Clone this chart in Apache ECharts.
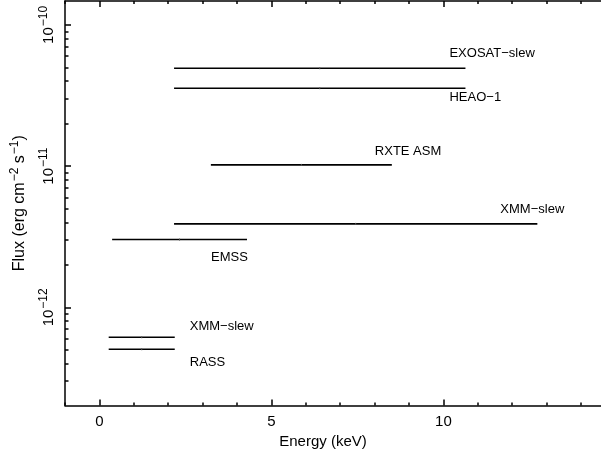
<!DOCTYPE html>
<html><head><meta charset="utf-8">
<script src="https://cdn.jsdelivr.net/npm/echarts@6/dist/echarts.min.js"></script>
<style>html,body{margin:0;padding:0;background:#fff}#c{width:601px;height:454px}</style>
</head><body><div id="c"></div>
<script>
// ---- data ----
const names = ['EXOSAT\u2212slew', 'HEAO\u22121', 'RXTE ASM', 'XMM\u2212slew', 'EMSS', 'XMM\u2212slew', 'RASS'];
const eLow  = [2.17, 2.17, 3.24, 2.17, 0.37, 0.27, 0.27];
const eHigh = [10.64, 10.64, 8.5, 12.73, 4.29, 2.19, 2.19];
const flux  = [4.93e-11, 3.56e-11, 1.02e-11, 3.9e-12, 3.02e-12, 6.14e-13, 5.05e-13];
const xMajorTicks = [0, 5, 10];
const xMinorTicks = [-1, 1, 2, 3, 4, 6, 7, 8, 9, 11, 12, 13, 14];
const yMajorTicks = [1e-12, 1e-11, 1e-10];
const yMinorMantissa = [2, 3, 4, 5, 6, 7, 8, 9];
const yDecades = [-13, -12, -11, -10];
// ---- styles ----
const labelOffsets = [[-16, -15], [-16, 9], [-17, -13], [-37, -14.5], [-36, 18], [15, -11], [15, 12.7]];
const xMin = -1, xMax = 14.58, yMin = 2.018e-13, yMax = 1.476e-10;
const FONT = 'Liberation Sans, Arial, sans-serif';

const yMinorVals = [];
yDecades.forEach(d => yMinorMantissa.forEach(m => {
  const lv = Math.log10(m) + d;
  if (lv > Math.log10(yMin) && lv < Math.log10(yMax)) yMinorVals.push(lv);
}));

const data = names.map((n, i) => [eLow[i], eHigh[i], flux[i], i]);

const chart = echarts.init(document.getElementById('c'), null, {renderer: 'canvas'});
const lineStyle = {color: '#000', width: 1.5};
const sup = {fontSize: 12, fontFamily: FONT, color: '#000', padding: [0, 0, 10, 1]};
const base = {fontSize: 15, fontFamily: FONT, color: '#000'};

chart.setOption({
  animation: false,
  backgroundColor: '#fff',
  grid: {left: 65, right: 0, top: 1, bottom: 48.5, containLabel: false, outerBoundsMode: 'none'},
  xAxis: [
    {type: 'value', min: xMin, max: xMax, position: 'bottom',
     name: 'Energy (keV)', nameLocation: 'middle', nameGap: 28,
     nameTextStyle: {fontSize: 15, fontFamily: FONT, color: '#000', padding: [0, 20, 0, 0]},
     axisLine: {show: true, onZero: false, lineStyle: lineStyle},
     axisTick: {show: true, inside: true, length: 6, customValues: xMajorTicks, lineStyle: lineStyle},
     axisLabel: {show: true, customValues: xMajorTicks, margin: 9, fontSize: 15, fontFamily: FONT, color: '#000'},
     splitLine: {show: false}},
    {type: 'value', min: xMin, max: xMax, position: 'bottom',
     axisLine: {show: false, onZero: false},
     axisTick: {show: true, inside: true, length: 3, customValues: xMinorTicks, lineStyle: lineStyle},
     axisLabel: {show: false}, splitLine: {show: false}},
    {type: 'value', min: xMin, max: xMax, position: 'top',
     axisLine: {show: true, onZero: false, lineStyle: lineStyle},
     axisTick: {show: true, inside: true, length: 6, customValues: xMajorTicks, lineStyle: lineStyle},
     axisLabel: {show: false}, splitLine: {show: false}},
    {type: 'value', min: xMin, max: xMax, position: 'top',
     axisLine: {show: false, onZero: false},
     axisTick: {show: true, inside: true, length: 3, customValues: xMinorTicks, lineStyle: lineStyle},
     axisLabel: {show: false}, splitLine: {show: false}}
  ],
  yAxis: [
    {type: 'log', min: yMin, max: yMax, position: 'left', logBase: 10,
     name: 'Flux (erg cm{s|\u22122} s{s|\u22121})', nameLocation: 'middle', nameGap: 34,
     nameTextStyle: {fontSize: 16, fontFamily: FONT, color: '#000', rich: {s: {fontSize: 12, fontFamily: FONT, color: '#000', padding: [0, 0, 10, 1]}}},
     axisLine: {show: true, onZero: false, lineStyle: lineStyle},
     axisTick: {show: true, inside: true, length: 6, customValues: yMajorTicks, lineStyle: lineStyle},
     axisLabel: {show: true, customValues: yMajorTicks, rotate: 90, margin: 5,
       formatter: v => '{b|10}{s|\u2212' + Math.abs(Math.round(Math.log10(v))) + '}',
       rich: {b: base, s: sup}},
     splitLine: {show: false}},
    {type: 'value', min: Math.log10(yMin), max: Math.log10(yMax), position: 'left',
     axisLine: {show: false, onZero: false},
     axisTick: {show: true, inside: true, length: 3.5, customValues: yMinorVals, lineStyle: lineStyle},
     axisLabel: {show: false}, splitLine: {show: false}}
  ],
  series: [{
    type: 'custom',
    xAxisIndex: 0, yAxisIndex: 0,
    data: data,
    renderItem: function (params, api) {
      const x0 = api.value(0), x1 = api.value(1), y = api.value(2), i = api.value(3);
      const p0 = api.coord([x0, y]);
      const p1 = api.coord([x1, y]);
      const pm = api.coord([(x0 + x1) / 2, y]);
      const off = labelOffsets[i];
      return {
        type: 'group',
        children: [
          {type: 'line', shape: {x1: p0[0], y1: p0[1], x2: p1[0], y2: p1[1]}, style: {stroke: '#000', lineWidth: 1.6}},
          {type: 'line', shape: {x1: pm[0], y1: pm[1] - 1, x2: pm[0], y2: pm[1] + 1}, style: {stroke: '#555', lineWidth: 1}},
          {type: 'text', x: p1[0] + off[0], y: p1[1] + off[1],
           style: {text: names[i], fill: '#000', font: '13px ' + FONT, align: 'left', verticalAlign: 'middle'}}
        ]
      };
    }
  }]
});
</script></body></html>
